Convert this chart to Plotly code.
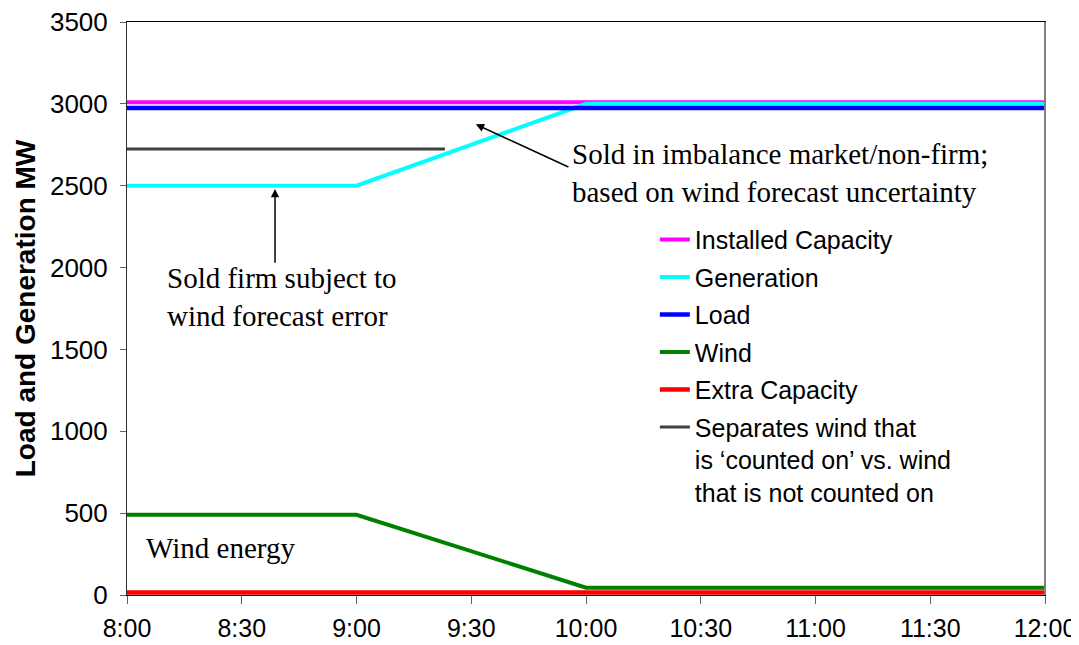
import plotly.graph_objects as go

# Data (time in hours)
hours = [8, 9, 10, 11, 12]
installed = [3010, 3010, 3010, 3010, 3010]
generation = [2500, 2500, 3000, 3000, 3000]
load = [2975, 2975, 2975, 2975, 2975]
wind = [490, 490, 45, 45, 45]
extra = [15, 15, 15, 15, 15]
sep_x = [8.0, 9.385]
sep_y = [2725, 2725]

tick_vals = [8, 8.5, 9, 9.5, 10, 10.5, 11, 11.5, 12]
tick_text = ["8:00", "8:30", "9:00", "9:30", "10:00", "10:30", "11:00", "11:30", "12:00"]

series = [
    ("Installed Capacity", installed, "#FF00FF", 4),
    ("Generation", generation, "#00FFFF", 4),
    ("Load", load, "#0000FF", 4.5),
    ("Wind", wind, "#008000", 4),
    ("Extra Capacity", extra, "#FF0000", 4.5),
]

fig = go.Figure()
for i, (name, ys, color, w) in enumerate(series):
    fig.add_trace(go.Scatter(x=hours, y=ys, mode="lines", name=name,
                             line=dict(color=color, width=w),
                             legendgroup=f"g{i}"))
fig.add_trace(go.Scatter(x=sep_x, y=sep_y, mode="lines",
                         name="Separates wind that<br>is ‘counted on’ vs. wind<br>that is not counted on",
                         line=dict(color="#404040", width=3), legendgroup="g5"))

serif = dict(family="Liberation Serif, Times New Roman, serif", size=29, color="black")

# arrow: imbalance market
fig.add_annotation(x=9.52, y=2875, ax=9.93, ay=2610, axref="x", ayref="y",
                   xref="x", yref="y", showarrow=True, arrowhead=2, arrowsize=1.1,
                   arrowwidth=1.5, arrowcolor="black", text="")
fig.add_annotation(x=9.93, y=2577, xref="x", yref="y", xanchor="left", yanchor="middle",
                   text="Sold in imbalance market/non-firm;<br>based on wind forecast uncertainty",
                   showarrow=False, font=serif, align="left")
# arrow: firm
fig.add_annotation(x=8.645, y=2480, ax=8.645, ay=2020, axref="x", ayref="y",
                   xref="x", yref="y",
                   showarrow=True, arrowhead=2, arrowsize=1.1, arrowwidth=1.5,
                   arrowcolor="black", text="")
fig.add_annotation(x=8.165, y=1820, xref="x", yref="y", xanchor="left", yanchor="middle",
                   text="Sold firm subject to<br>wind forecast error",
                   showarrow=False, font=serif, align="left")
fig.add_annotation(x=8.075, y=290, xref="x", yref="y", xanchor="left", yanchor="middle",
                   text="Wind energy", showarrow=False, font=serif, align="left")

fig.update_layout(
    width=1071, height=637,
    margin=dict(l=119, r=34, t=14, b=50),
    paper_bgcolor="white", plot_bgcolor="white",
    font=dict(family="Liberation Sans, Arial, sans-serif", size=26, color="black"),
    showlegend=True,
    legend=dict(x=0.575, y=0.66, xanchor="left", yanchor="top", valign="top",
                bgcolor="rgba(0,0,0,0)", font=dict(size=25),
                traceorder="grouped", tracegroupgap=2, itemwidth=30),
    xaxis=dict(range=[8, 12], tickvals=tick_vals, ticktext=tick_text,
               showgrid=False, zeroline=False, showline=True, linecolor="black",
               linewidth=1, ticks="outside", ticklen=8, tickcolor="#606060",
               tickfont=dict(size=25), automargin=False, ticklabelstandoff=3,
               ticklabeloverflow="allow", mirror=True),
    yaxis=dict(range=[0, 3500], dtick=500, showgrid=False, zeroline=False,
               showline=True, linecolor="#303030", linewidth=1, ticks="outside",
               ticklen=6, tickcolor="#606060", tickfont=dict(size=26),
               automargin=False, ticklabelstandoff=7, ticklabeloverflow="allow",
               mirror=True,
               title=dict(text="<b>Load and Generation MW</b>", font=dict(size=28), standoff=6)),
)
fig.add_shape(type="line", xref="paper", yref="paper", x0=1, y0=0, x1=1, y1=1,
              line=dict(color="#808080", width=2), layer="above")

fig.write_html("out.html")
